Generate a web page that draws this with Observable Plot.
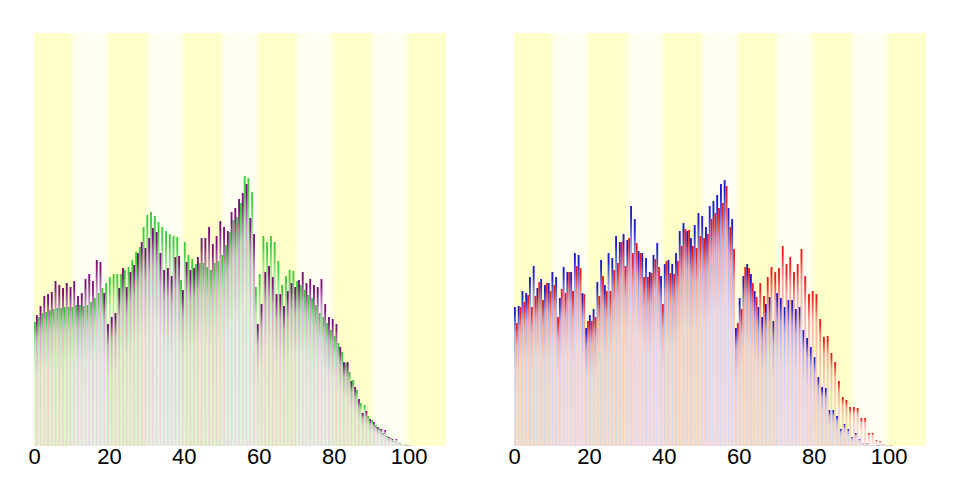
<!DOCTYPE html>
<html>
<head>
<meta charset="utf-8">
<script src="https://cdn.jsdelivr.net/npm/d3@7"></script>
<script src="https://cdn.jsdelivr.net/npm/@observablehq/plot@0.6"></script>
<style>
  html, body { margin: 0; padding: 0; background: #fff; }
  #wrap { display: flex; flex-direction: row; width: 960px; height: 480px; }
</style>
</head>
<body>
<div id="wrap"></div>
<script>
// Ages 0..100
const ages = d3.range(0, 101);
const decades = [0, 10, 20, 30, 40, 50, 60, 70, 80, 90, 100];
const tickValues = [0, 20, 40, 60, 80, 100];

// Left panel series (green, purple)
const leftGreen = [124,129,133,134,136,137,138,138,139,139,139,141,141,140,141,144,148,153,158,163,
  169,172,172,172,176,179,186,194,199,219,231,234,230,224,219,215,212,210,209,166,
  204,191,187,182,183,183,179,176,183,185,191,201,214,226,229,243,270,268,254,159,
  172,210,204,210,204,185,161,170,176,175,165,161,156,151,148,141,133,129,123,116,
  110,103,94,83,74,66,56,43,41,30,26,21,18,13,10,8,5,3.3,2,1.5,1];
const leftPurple = [131,140,150,152,154,165,161,158,163,159,165,150,153,167,172,165,186,184,153,122,
  129,133,158,178,159,174,181,193,204,198,208,218,214,193,176,178,170,189,190,156,
  184,176,178,189,208,208,219,202,210,225,219,215,234,238,247,253,262,228,212,122,
  142,174,180,169,152,152,140,155,163,159,166,174,163,167,161,159,167,142,129,127,
  122,99,84,84,65,59,47,33,35,27,24,19,17,16,9,7,7,3,1,0.5,0.3];

// Right panel series (blue, red)
const rightBlue = [139,140,155,153,169,180,158,167,161,163,174,169,148,179,174,174,193,191,153,118,
  131,137,164,186,161,193,188,210,204,212,206,240,227,195,193,188,174,191,203,170,
  182,186,182,193,215,223,215,208,221,233,230,219,240,245,251,262,266,238,227,118,
  148,170,182,172,155,139,129,142,149,125,153,148,139,146,146,137,139,116,108,99,
  89,69,59,58,36,36,30,17,22,17,9,13,7,3,3,1,1,0.5,0.3,0.2,0.1];
const rightRed = [123,139,144,151,139,150,164,146,163,155,161,129,157,153,174,155,180,178,152,125,
  125,129,150,170,155,155,176,183,204,180,208,193,203,193,169,169,173,187,179,142,
  185,173,172,185,200,217,216,200,198,210,208,212,227,233,238,243,260,219,197,123,
  137,179,178,163,149,163,150,169,179,174,178,200,182,189,174,182,197,170,152,155,
  152,127,109,110,93,84,65,49,46,39,39,38,28,28,13,13,6,5,2,1,0.5];

const yMax = 413;

function mix(c, t) {
  const a = d3.rgb(c);
  return d3.rgb(a.r + (255 - a.r) * t, a.g + (255 - a.g) * t, a.b + (255 - a.b) * t).formatHex();
}

function makePanel(seriesA, seriesB, colorA, colorB, id) {
  const rowsA = ages.map((a, i) => ({age: a, v: seriesA[i]}));
  const rowsB = ages.map((a, i) => ({age: a, v: seriesB[i]}));
  const svg = Plot.plot({
    width: 480,
    height: 480,
    marginTop: 33,
    marginBottom: 34,
    marginLeft: 34,
    marginRight: 34,
    style: {fontFamily: "Liberation Sans, Arial, sans-serif", fontSize: "22px", background: "#ffffff", color: "#000"},
    x: {domain: [0, 110], ticks: tickValues, tickSize: 0, tickPadding: 2, label: null},
    y: {domain: [0, yMax], axis: null},
    marks: [
      Plot.rect(decades, {
        x1: d => d, x2: d => d + 10,
        fill: d => (d / 10) % 2 === 0 ? "#ffffca" : `url(#${id}-light)`
      }),
      Plot.rect(rowsA, {
        x1: "age", x2: d => d.age + 0.5, y1: d => 0, y2: "v",
        fill: `url(#${id}-a)`
      }),
      Plot.rect(rowsB, {
        x1: d => d.age + 0.5, x2: d => d.age + 1, y1: d => 0, y2: "v",
        fill: `url(#${id}-b)`
      })
    ]
  });
  const defs = d3.select(svg).insert("defs", ":first-child");
  const light = defs.append("linearGradient").attr("id", `${id}-light`)
    .attr("x1", 0).attr("y1", 0).attr("x2", 1).attr("y2", 0);
  [[0, "#ffffdc"], [0.15, "#fffff0"], [0.85, "#fffff2"], [1, "#ffffdc"]].forEach(([o, c]) =>
    light.append("stop").attr("offset", o).attr("stop-color", c));
  [[`${id}-a`, colorA], [`${id}-b`, colorB]].forEach(([gid, col]) => {
    const g = defs.append("linearGradient").attr("id", gid)
      .attr("x1", 0).attr("y1", 0).attr("x2", 0).attr("y2", 1);
    [[0, col, 1], [0.04, col, 1], [0.18, mix(col, 0.5), 0.78], [0.45, mix(col, 0.7), 0.62], [1, mix(col, 0.72), 0.58]]
      .forEach(([o, c, op]) => g.append("stop").attr("offset", o).attr("stop-color", c).attr("stop-opacity", op));
  });
  return svg;
}

const wrap = document.getElementById("wrap");
wrap.appendChild(makePanel(leftGreen, leftPurple, "#3ccc3c", "#7a107a", "lp"));
wrap.appendChild(makePanel(rightBlue, rightRed, "#1c1cd0", "#ee1c1c", "rp"));
</script>
</body>
</html>
